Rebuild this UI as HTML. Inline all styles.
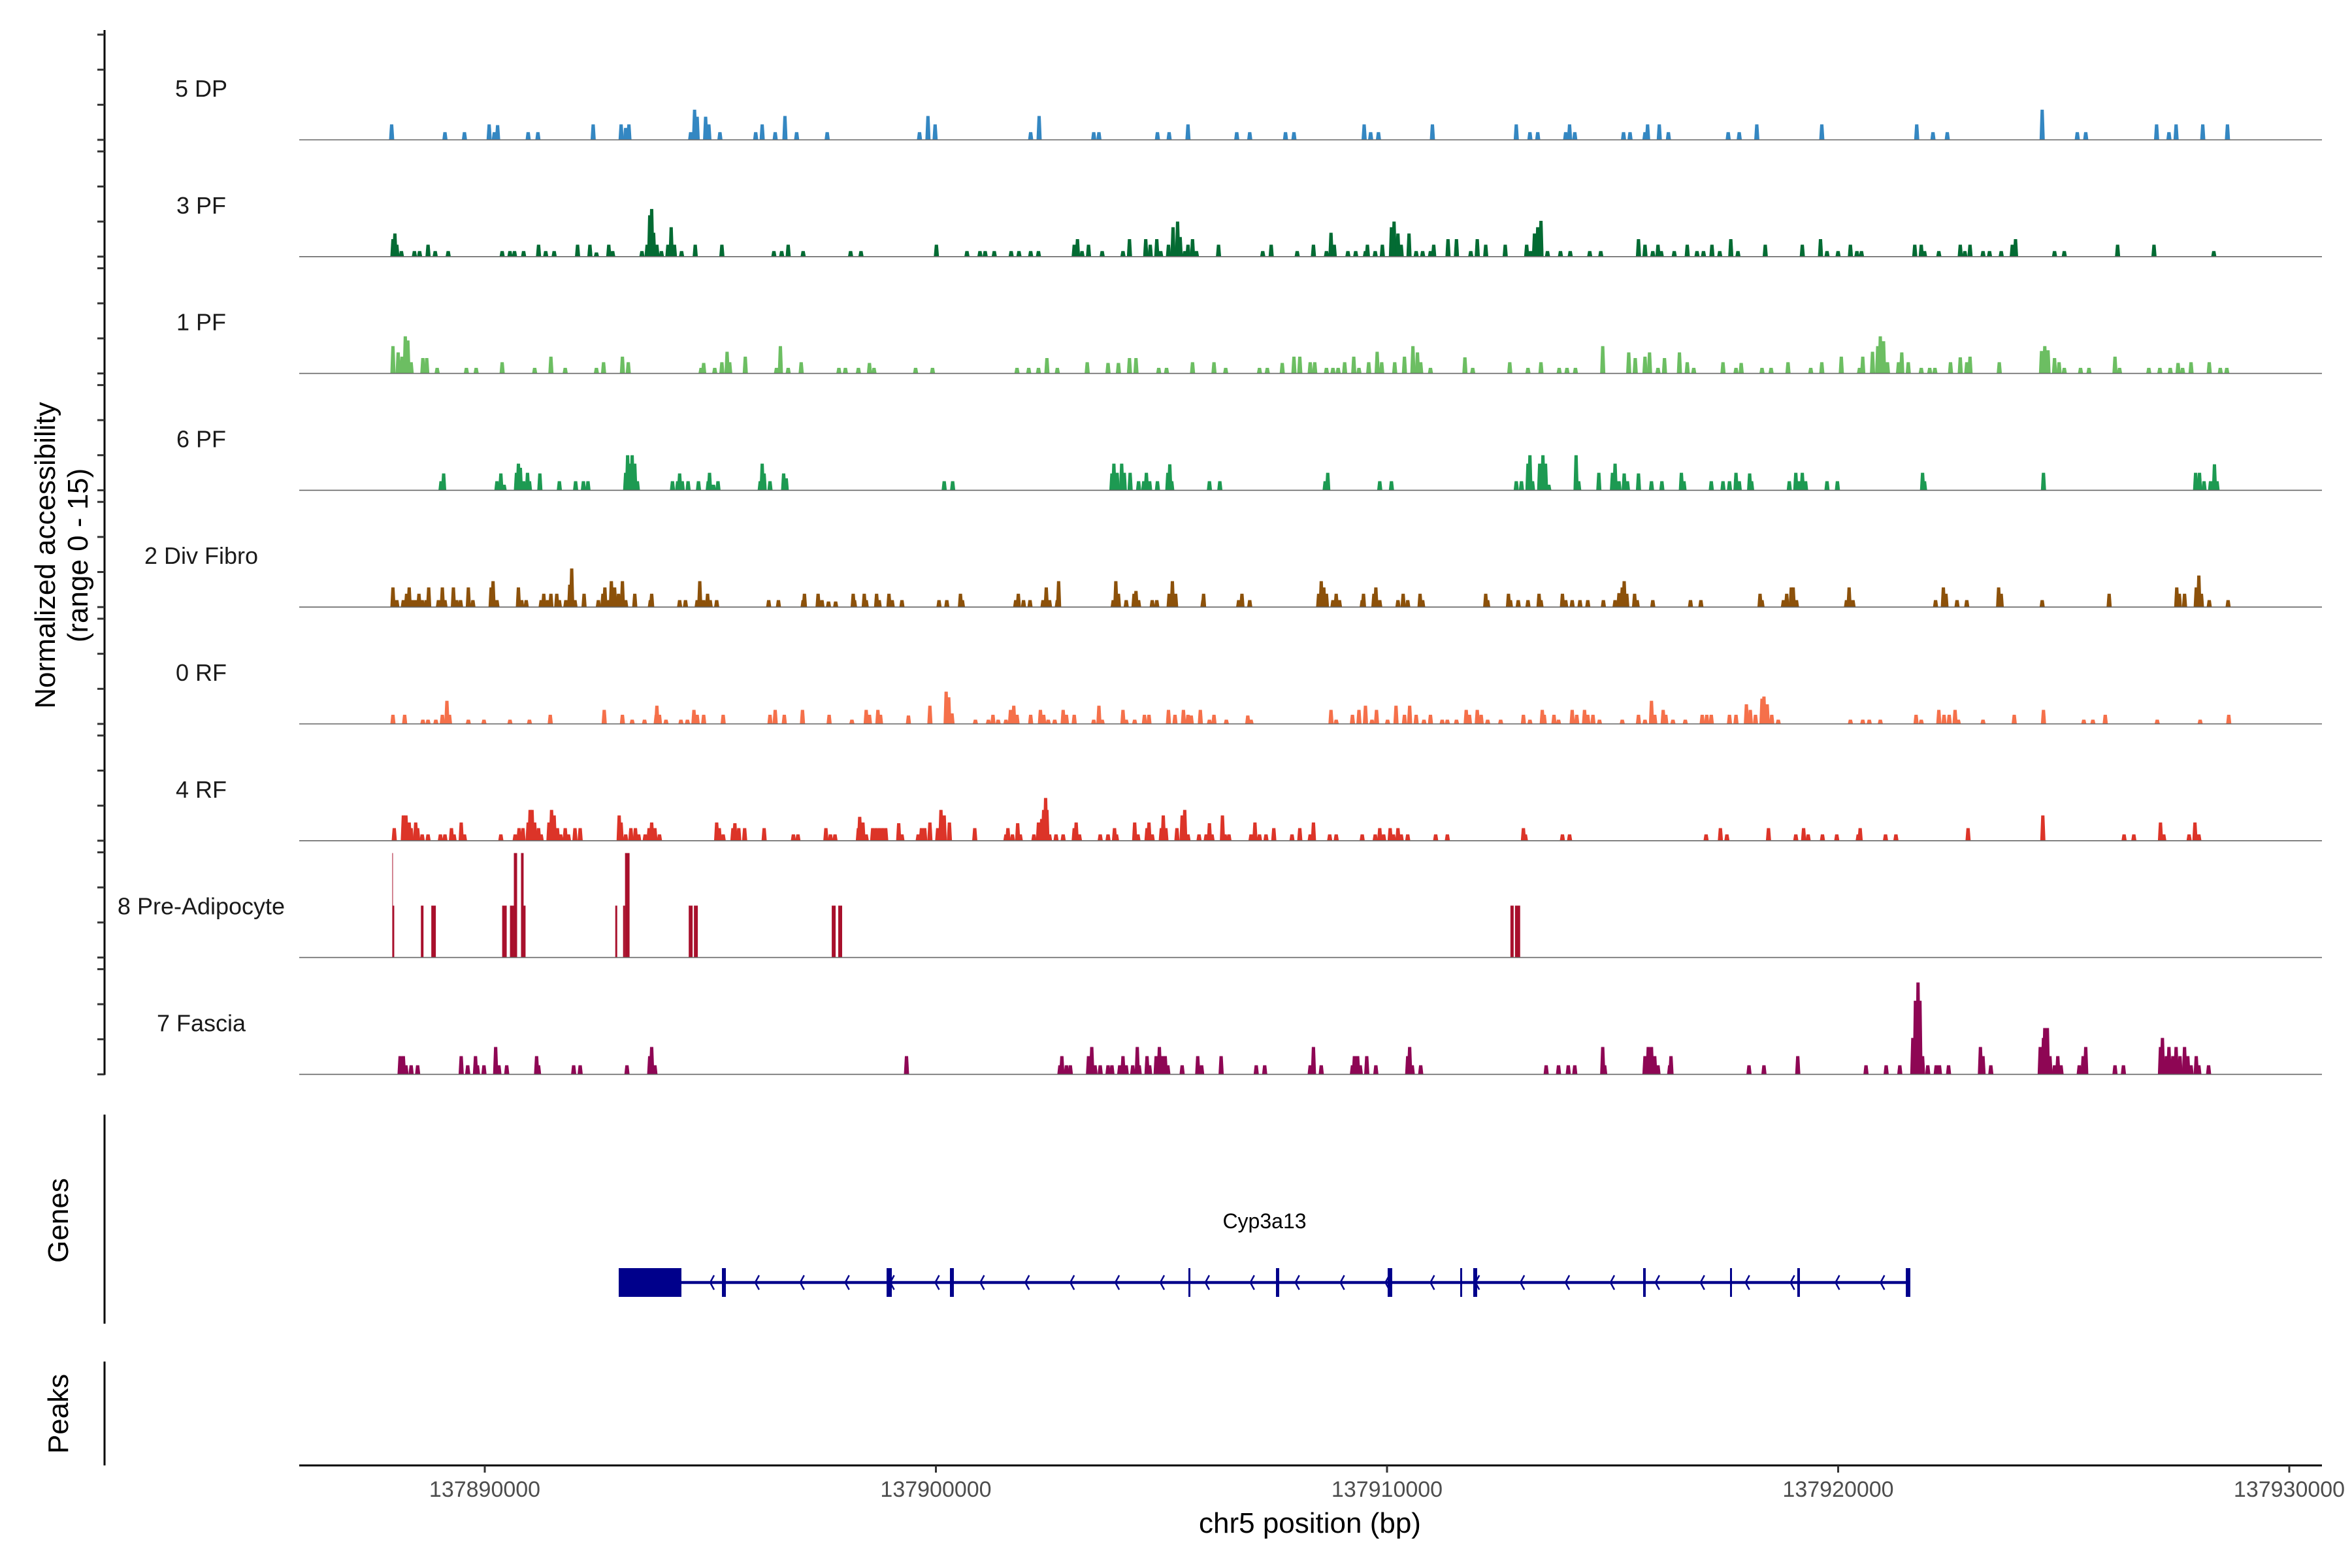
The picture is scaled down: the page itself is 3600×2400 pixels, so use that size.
<!DOCTYPE html>
<html><head><meta charset="utf-8">
<style>
html,body{margin:0;padding:0;background:#fff;}
svg{display:block;font-family:"Liberation Sans",Arial,sans-serif;}
</style></head>
<body>
<svg id="chart" width="3600" height="2400" viewBox="0 0 3600 2400" xmlns="http://www.w3.org/2000/svg">
<rect x="0" y="0" width="3600" height="2400" fill="#fff"/>
<g id="yaxis"></g>
<g id="tracks"></g>
<g id="genes"></g>
<g id="xaxis"></g>
<g transform="translate(92,850) rotate(-90)">
<text x="0" y="-8" text-anchor="middle" font-size="44" fill="#000">Normalized accessibility</text>
<text x="0" y="42" text-anchor="middle" font-size="44" fill="#000">(range 0 - 15)</text>
</g>
<text transform="translate(104,1868) rotate(-90)" text-anchor="middle" font-size="44" fill="#000">Genes</text>
<text transform="translate(104,2164) rotate(-90)" text-anchor="middle" font-size="44" fill="#000">Peaks</text>
<text x="2005" y="2346" text-anchor="middle" font-size="44" fill="#000">chr5 position (bp)</text>
</svg>
<script>
// ---- data ----
const REGION_START = 137885630;
const BIN_BP = 14.41;
const trackNames = ["5 DP","3 PF","1 PF","6 PF","2 Div Fibro","0 RF","4 RF","8 Pre-Adipocyte","7 Fascia"];
const trackColors = ["#3487c2","#036b33","#6cbe62","#1d9a52","#8c510a","#f5704a","#dc3428","#a8102c","#8e0654"];
const xTickValues = [137890000,137900000,137910000,137920000,137930000];
const xTickLabels = ["137890000","137900000","137910000","137920000","137930000"];
const yTickValues = [0,5,10,15];

const dp5 = [[160,2.2],[242,1.1],[272,1.1],[310,2.2],[318,1.1],[323,2.1],[370,1.1],[385,1.1],[470,2.2],[513,2.2],[520,1.7],[525,2.2],[620,1.1],[626,4.3],[630,3.3],[643,3.3],[648,2.2],[665,1.1],[720,1.1],[730,2.2],[750,1.1],[765,3.4],[783,1.1],[830,1.1],[972,1.1],[985,3.4],[996,2.2],[1143,1.1],[1156,3.4],[1240,1.1],[1248,1.1],[1338,1.1],[1356,1.1],[1385,2.2],[1460,1.1],[1480,1.1],[1535,1.1],[1548,1.1],
[1656,2.2],[1666,1.1],[1678,1.1],[1761,2.2],[1890,2.2],[1911,1.1],[1923,1.1],[1966,1.1],[1972,2.2],[1980,1.1],[2055,1.1],[2065,1.1],[2088,1.1],[2092,2.2],[2110,2.2],[2124,1.1],[2216,1.1],[2233,1.1],[2260,2.2],[2360,2.2],[2506,2.2],[2531,1.1],[2553,1.1],[2699,4.3],[2753,1.1],[2766,1.1],[2875,2.2],[2894,1.1],[2905,2.2],[2946,2.2],[2984,2.2]];

const pf3 = [[162,2.5],[165,3.3],[168,1.7],[175,0.8],[195,0.8],[203,0.8],[216,1.7],[227,0.8],[247,0.8],[330,0.8],[342,0.8],[349,0.8],[363,0.8],[386,1.7],[397,0.8],[410,0.8],[446,1.7],[465,1.7],[475,0.6],[494,1.7],[500,0.8],[545,0.8],[553,1.7],[557,5.9],[560,6.8],[563,3.4],[568,1.7],[575,0.8],[585,1.7],[590,4.2],[595,1.7],[606,0.8],[627,1.7],[668,1.7],[748,0.8],[760,0.8],[770,1.7],[793,0.8],[866,0.8],[882,0.8],[998,1.7],[1045,0.8],[1065,0.8],[1073,0.8],[1087,0.8],[1113,0.8],[1125,0.8],[1143,0.8],[1155,0.8],[1210,1.7],[1215,2.5],[1222,0.8],[1232,1.7],[1253,0.8],[1285,0.8],[1295,2.5],[1320,2.5],[1327,1.7],[1337,2.5],[1343,0.8],[1355,1.7],[1362,4.2],[1369,5.0],[1373,2.8],[1380,0.8],[1385,1.7],[1392,2.5],[1398,0.8],[1432,1.7],[1500,0.8],[1513,1.7],[1553,0.8],
[1578,1.7],[1598,0.8],[1605,3.4],[1610,1.7],[1631,0.8],[1643,0.8],[1658,0.8],[1661,1.7],[1673,0.8],[1684,1.7],[1698,4.2],[1702,5.0],[1708,3.3],[1713,1.7],[1725,3.3],[1736,0.8],[1746,0.8],[1758,0.8],[1763,1.7],[1785,2.5],[1798,2.5],[1820,0.8],[1830,2.5],[1843,1.7],[1873,1.7],[1906,1.7],[1912,0.8],[1918,3.3],[1923,4.2],[1928,5.1],[1938,0.8],[1958,0.8],[1973,0.8],[2003,0.8],[2020,0.8],[2078,2.5],[2088,1.7],[2100,0.8],[2108,1.7],[2113,0.8],[2133,0.8],[2153,1.7],[2168,0.8],[2178,0.8],[2191,1.7],[2203,0.8],[2220,2.5],[2231,0.8],[2273,1.7],[2330,1.7],[2358,2.5],[2368,0.8],[2385,0.8],[2404,1.7],[2414,0.8],[2421,0.8],[2503,1.7],[2513,1.7],[2518,0.8],[2540,0.8],[2573,1.7],[2580,0.8],[2588,1.7],[2608,0.8],[2618,0.8],[2636,0.8],[2653,1.7],[2658,2.5],[2718,0.8],[2733,0.8],[2815,1.7],[2871,1.7],[2963,0.8]];

const pf1 = [[162,3.9],[170,3.0],[176,2.4],[181,5.3],[185,4.7],[190,1.6],[208,2.2],[214,2.2],[230,0.8],[275,0.8],[290,0.8],[330,1.6],[380,0.8],[405,2.4],[427,0.8],[475,0.8],[486,1.6],[515,2.4],[524,1.6],[636,0.8],[640,1.5],[657,0.8],[668,1.6],[676,3.1],[680,1.6],[704,2.4],[752,0.8],[758,3.9],[770,0.8],[790,1.6],[848,0.8],[858,0.8],[878,0.8],[895,1.5],[902,0.8],[966,0.8],[992,0.8],[1122,0.8],[1140,0.8],[1155,0.8],[1168,2.2],[1184,0.8],[1230,1.6],[1262,1.5],[1278,1.5],[1295,2.2],[1305,2.2],[1340,0.8],[1352,0.8],[1392,1.6],[1425,1.6],[1443,0.8],[1495,0.8],[1507,0.8],[1530,1.5],[1548,2.4],[1557,2.4],
[1573,1.6],[1580,1.6],[1598,0.8],[1608,0.8],[1616,0.8],[1626,1.6],[1640,2.4],[1648,0.8],[1663,1.6],[1676,3.1],[1683,1.6],[1703,1.6],[1718,2.4],[1731,3.9],[1738,3.0],[1743,1.6],[1758,0.8],[1811,2.3],[1823,0.8],[1880,1.6],[1908,0.8],[1928,1.6],[1956,0.8],[1968,0.8],[1981,0.8],[2023,3.9],[2063,3.0],[2073,2.2],[2088,2.4],[2095,3.0],[2108,0.8],[2118,2.2],[2141,3.0],[2153,1.6],[2163,0.8],[2208,1.6],[2228,0.8],[2236,1.5],[2268,0.8],[2282,0.8],[2308,1.6],[2343,0.8],[2360,1.6],[2390,2.4],[2418,0.8],[2423,2.4],[2438,3.1],[2446,3.9],[2450,5.3],[2455,4.6],[2461,1.6],[2478,1.6],[2483,3.0],[2493,1.6],[2513,0.8],[2526,0.8],[2534,0.8],[2558,1.6],[2573,2.3],[2583,1.6],[2588,2.4],[2633,1.6],[2698,3.2],[2703,3.9],[2708,3.3],[2718,2.2],[2725,1.6],[2733,0.8],[2758,0.8],[2771,0.8],[2811,2.4],[2818,0.8],[2863,0.8],[2880,0.8],[2896,0.8],[2908,1.5],[2915,0.8],[2928,1.6],[2956,1.6],[2973,0.8],[2983,0.8]];

const pf6 = [[236,1.3],[240,2.4],[322,1.3],[328,2.4],[333,0.8],[352,2.5],[355,3.8],[358,3.2],[363,1.3],[369,2.5],[372,1.3],[388,2.4],[418,1.3],[443,1.3],[455,1.3],[462,1.3],[520,2.5],[523,5.0],[527,3.8],[530,5.0],[534,3.8],[538,1.3],[592,1.3],[600,1.3],[603,2.4],[607,1.3],[616,1.3],[632,1.3],[647,1.3],[649,2.5],[655,0.8],[662,1.3],[727,1.3],[730,3.8],[733,2.4],[742,1.3],[763,2.4],[767,1.7],[1010,1.3],[1023,1.3],[1268,2.4],[1271,3.8],[1276,2.5],[1283,3.8],[1287,2.5],[1296,2.5],[1309,1.3],[1317,1.3],[1321,2.5],[1326,1.3],[1338,1.3],[1354,2.5],[1357,3.7],[1360,1.3],[1418,1.3],[1434,1.3],
[1596,1.3],[1600,2.5],[1680,1.3],[1698,1.3],[1890,1.3],[1898,1.3],[1908,3.8],[1911,5.0],[1915,1.3],[1926,3.8],[1931,5.0],[1935,3.8],[1940,0.8],[1982,5.0],[1986,1.3],[2017,2.5],[2038,2.5],[2042,3.8],[2048,1.3],[2056,2.4],[2061,1.3],[2078,2.4],[2098,1.3],[2114,1.3],[2144,2.5],[2148,1.3],[2190,1.3],[2208,1.3],[2218,1.3],[2228,2.5],[2233,1.3],[2249,2.4],[2252,1.3],[2310,1.3],[2320,2.5],[2325,1.3],[2330,2.5],[2335,1.3],[2368,1.3],[2384,1.3],[2515,2.5],[2518,1.3],[2701,2.5],[2935,2.5],[2941,2.5],[2948,1.3],[2958,1.3],[2964,3.7],[2968,1.3]];

const fibro2 = [[162,2.8],[168,1.0],[178,1.0],[183,1.9],[187,2.8],[192,1.0],[197,1.0],[202,1.9],[207,1.0],[213,1.0],[217,2.8],[232,1.0],[238,2.8],[242,1.0],[255,2.8],[260,1.0],[266,1.0],[278,2.8],[285,1.0],[313,2.8],[316,3.7],[322,1.0],[355,2.8],[360,1.0],[367,1.0],[390,1.0],[394,1.9],[400,1.0],[405,1.9],[414,1.9],[418,1.0],[428,1.0],[434,3.2],[437,5.5],[442,1.0],[456,1.9],[478,1.0],[485,1.9],[488,2.8],[494,1.0],[498,3.7],[503,2.8],[509,1.9],[515,3.7],[520,1.0],[534,1.9],[558,1.0],[560,1.9],[603,1.0],[612,1.0],[630,1.0],[634,3.7],[640,1.0],[646,1.9],[650,1.0],[660,1.0],[740,1.0],[755,1.0],[793,1.0],[795,1.9],[816,1.9],[822,1.0],[832,0.8],[843,0.8],[870,1.9],[872,1.0],[887,1.9],[890,1.0],[906,1.9],[910,1.0],[925,1.9],[930,1.0],[945,1.0],[1002,1.0],[1014,1.0],[1035,1.9],[1038,1.0],[1120,1.0],[1124,1.9],[1132,1.0],[1142,1.0],[1162,1.0],[1167,2.8],[1172,1.0],[1184,1.0],[1186,3.7],[1270,1.0],[1274,3.7],[1278,1.9],[1290,1.0],[1302,1.9],[1305,2.3],[1309,1.0],[1330,1.0],[1337,1.0],[1356,1.9],[1361,3.7],[1366,1.9],[1408,1.0],[1409,1.9],[1463,1.0],[1468,1.9],[1480,1.0],
[1586,1.9],[1590,3.7],[1594,2.8],[1598,1.9],[1608,1.0],[1613,1.9],[1618,1.0],[1653,1.0],[1655,1.9],[1671,1.9],[1674,2.8],[1680,1.0],[1708,1.0],[1716,1.9],[1723,1.0],[1742,1.9],[1746,1.0],[1843,1.9],[1846,1.0],[1878,1.9],[1881,1.0],[1893,1.0],[1908,1.0],[1925,1.9],[1928,1.0],[1961,1.9],[1966,1.0],[1976,1.0],[1988,1.0],[2000,1.0],[2024,1.0],[2042,1.0],[2048,2.0],[2053,2.8],[2056,3.7],[2060,1.9],[2072,1.9],[2076,1.0],[2100,1.0],[2158,1.0],[2174,1.0],[2265,1.9],[2268,1.0],[2301,1.0],[2306,1.9],[2313,2.8],[2316,2.8],[2321,1.0],[2398,1.0],[2402,2.8],[2408,1.0],[2535,1.0],[2547,2.8],[2551,1.9],[2568,1.0],[2583,1.0],[2632,2.8],[2636,1.9],[2699,1.0],[2802,1.9],[2906,2.8],[2910,1.9],[2918,1.9],[2936,2.8],[2940,4.5],[2944,1.9],[2956,1.0],[2985,1.0]];

const rf0 = [[162,1.3],[180,1.3],[208,0.6],[216,0.6],[228,0.6],[238,1.3],[245,3.3],[249,1.3],[278,0.6],[302,0.6],[342,0.6],[372,0.6],[404,1.3],[487,2.0],[515,1.3],[530,0.6],[549,0.6],[567,1.3],[568,2.6],[572,1.3],[582,0.6],[605,0.6],[615,0.6],[625,2.0],[630,1.3],[640,1.3],[670,1.3],[742,1.3],[750,2.0],[764,1.3],[792,2.0],[833,1.3],[868,0.6],[890,2.0],[895,1.3],[908,2.0],[912,1.3],[955,1.2],[988,2.6],[1013,4.6],[1017,3.8],[1022,1.5],[1058,0.6],[1078,0.6],[1085,1.3],[1093,0.6],[1105,0.6],[1112,2.0],[1117,2.6],[1122,1.3],[1143,1.3],[1158,2.0],[1163,1.3],[1170,0.6],[1180,0.6],[1193,2.0],[1198,1.3],[1210,1.3],[1240,0.6],[1248,2.6],[1253,0.6],[1285,2.0],[1290,0.6],[1303,0.6],[1318,1.3],[1325,1.3],[1355,2.0],[1365,1.3],[1378,2.0],[1385,1.3],[1390,1.2],[1404,2.0],[1418,0.6],[1425,1.3],[1444,0.6],[1477,1.2],[1482,0.6],
[1605,2.0],[1613,0.6],[1638,1.3],[1648,2.0],[1658,2.6],[1668,0.6],[1675,2.0],[1692,0.6],[1705,2.6],[1718,1.3],[1726,2.6],[1736,1.3],[1748,0.6],[1758,1.3],[1776,0.6],[1784,0.6],[1798,0.6],[1813,2.0],[1818,1.3],[1830,2.0],[1836,1.3],[1846,0.6],[1866,0.6],[1901,1.3],[1911,0.6],[1930,2.0],[1933,1.3],[1948,1.3],[1955,0.6],[1976,2.0],[1983,1.3],[1995,2.0],[2000,1.3],[2008,1.3],[2018,0.6],[2053,0.6],[2078,1.3],[2088,0.6],[2098,3.3],[2103,1.3],[2116,2.0],[2120,1.3],[2131,0.6],[2150,0.6],[2176,1.3],[2183,1.3],[2190,1.3],[2218,1.3],[2228,1.3],[2244,2.8],[2250,2.0],[2258,1.3],[2268,3.6],[2271,3.9],[2276,2.8],[2283,1.3],[2293,0.6],[2404,0.6],[2423,0.6],[2433,0.6],[2450,0.6],[2505,1.3],[2513,0.6],[2540,2.0],[2548,1.3],[2556,1.3],[2565,2.0],[2570,0.6],[2608,0.6],[2656,1.3],[2701,2.0],[2763,0.6],[2777,0.6],[2796,1.3],[2876,0.6],[2942,0.6],[2986,1.3]];

const rf4 = [[164,1.8],[178,3.6],[182,3.6],[187,2.6],[190,1.8],[197,2.6],[200,1.8],[207,0.9],[216,0.9],[235,0.9],[242,0.9],[252,1.8],[256,0.9],[267,2.6],[272,0.9],[328,0.9],[350,0.9],[356,1.8],[362,1.8],[370,2.6],[373,4.4],[376,4.4],[380,2.6],[386,1.8],[390,0.9],[402,2.6],[406,4.4],[410,3.6],[415,1.8],[420,0.9],[427,1.8],[432,0.9],[442,1.8],[450,1.8],[510,3.6],[513,2.6],[520,0.9],[528,1.8],[535,1.8],[540,0.9],[550,0.9],[556,1.8],[560,2.6],[565,1.8],[572,0.9],[660,2.6],[664,1.8],[670,0.9],[685,1.8],[688,2.5],[694,1.8],[703,1.8],[733,1.8],[778,0.9],[785,0.9],[828,1.8],[835,0.9],[842,0.9],[878,1.8],[880,3.4],[885,2.6],[890,0.9],[900,1.8],[905,1.8],[910,1.8],[915,1.8],[920,1.8],[940,2.5],[945,0.9],[970,0.9],[975,1.8],[980,1.8],[988,2.6],[1000,1.8],[1005,4.4],[1010,3.6],[1018,2.6],[1057,1.8],[1105,0.9],[1108,1.8],[1115,0.9],[1123,2.5],[1127,0.9],[1148,0.9],[1155,2.6],[1160,3.1],[1163,4.4],[1166,6.1],[1168,4.4],[1172,0.9],[1182,0.9],[1193,0.9],[1210,1.8],[1213,2.6],[1218,0.9],[1250,0.9],[1262,0.9],[1272,1.8],[1275,0.9],[1303,2.6],[1308,0.9],[1322,1.8],[1325,2.6],[1330,0.9],[1344,1.8],[1347,3.6],[1351,1.8],[1368,1.8],[1376,3.6],[1380,4.4],[1385,0.9],[1402,0.9],[1413,0.9],[1418,2.5],[1422,0.9],[1438,3.6],[1442,0.9],[1448,0.9],[1482,0.9],[1488,2.6],[1495,0.9],[1505,0.9],[1517,1.8],[1545,0.9],[1557,1.8],
[1573,0.9],[1578,2.6],[1603,0.9],[1613,0.9],[1653,0.9],[1673,0.9],[1680,1.8],[1686,0.9],[1696,1.8],[1701,0.9],[1708,1.8],[1713,0.9],[1723,0.9],[1766,0.9],[1784,0.9],[1901,1.8],[1904,0.9],[1961,0.9],[1972,0.9],[2182,0.9],[2204,1.8],[2214,0.9],[2278,1.8],[2320,0.9],[2332,1.8],[2339,0.9],[2361,0.9],[2383,0.9],[2416,0.9],[2419,1.8],[2458,0.9],[2474,0.9],[2585,1.8],[2700,3.6],[2825,0.9],[2840,0.9],[2881,2.6],[2886,0.9],[2925,0.9],[2934,2.6],[2940,0.9]];

// pre-adipocyte bars: [startBin, endBin, value]
const preAdipoStart = [161,161,205,221,330,342,348,359,362,504,516,519,617,625,837,847,1881,1888];
const preAdipoEnd   = [164,161.6,209,228,337,348,353,363,366,507,519,526,623,631,843,853,1886,1896];
const preAdipoValue = [7.4,14.9,7.4,7.4,7.4,7.4,14.9,14.9,7.4,7.4,7.4,14.9,7.4,7.4,7.4,7.4,7.4,7.4];

const fascia7 = [[173,2.6],[178,2.6],[182,1.3],[190,1.3],[200,1.3],[267,2.6],[277,1.3],[289,2.6],[292,1.3],[302,1.3],[320,3.9],[325,1.3],[337,1.3],[383,2.6],[386,1.3],[440,1.3],[450,1.3],[522,1.3],[557,2.6],[560,3.9],[565,1.3],[952,2.6],[1188,1.3],[1191,2.6],[1198,1.3],[1204,1.3],[1232,2.6],[1237,3.9],[1242,1.3],[1250,1.3],[1262,1.3],[1268,1.3],[1280,1.3],[1285,2.6],[1290,1.3],[1300,1.3],[1307,3.9],[1310,1.3],[1322,2.6],[1326,1.3],[1336,2.6],[1341,3.9],[1346,2.6],[1350,2.6],[1354,1.3],[1376,1.3],[1400,2.6],[1406,1.3],[1436,2.6],[1490,1.3],[1503,1.3],
[1573,1.3],[1578,3.9],[1590,1.3],[1638,1.3],[1641,2.6],[1646,2.6],[1650,1.3],[1660,2.6],[1674,1.3],[1723,2.6],[1726,3.9],[1730,1.3],[1743,1.3],[1936,1.3],[1955,1.3],[1970,1.3],[1980,1.3],[2023,3.9],[2026,1.3],[2088,2.6],[2093,3.9],[2098,3.9],[2103,2.6],[2108,1.3],[2126,1.3],[2128,2.6],[2248,1.3],[2271,1.3],[2323,2.6],[2428,1.3],[2459,1.3],[2480,1.3],[2500,5.2],[2504,10.5],[2508,13.1],[2511,10.5],[2515,2.6],[2523,1.3],[2536,1.3],[2541,1.3],[2555,1.3],[2604,3.9],[2608,2.6],[2620,1.3],[2696,3.9],[2701,5.2],[2703,6.6],[2707,6.6],[2711,2.6],[2718,1.3],[2723,2.6],[2728,1.3],[2756,1.3],[2762,2.6],[2766,3.9],[2811,1.3],[2824,1.3],[2881,3.9],[2884,5.2],[2890,2.6],[2894,3.9],[2900,2.6],[2905,3.9],[2911,2.6],[2918,3.9],[2923,2.6],[2928,1.3],[2936,2.6],[2940,1.3],[2955,1.3]];

// gene model (bp)
const geneName = "Cyp3a13";
const geneStart = 137892969;
const geneEnd = 137921600;
const exonStarts = [137892969,137895257,137898907,137900311,137905597,137907538,137910014,137911622,137911911,137915677,137917603,137919094,137921500];
const exonEnds   = [137894359,137895344,137899023,137900398,137905640,137907610,137910115,137911665,137911998,137915735,137917646,137919152,137921600];

// ---- scales ----
const NS = "http://www.w3.org/2000/svg";
const X0 = 742, PX_PER_BP = 0.06905, REF_BP = 137890000;
function xScale(bp){ return X0 + (bp - REF_BP) * PX_PER_BP; }
function binToBp(b){ return REGION_START + b * BIN_BP; }
const BASE0 = 214, TRACK_H = 178.8, UNIT_PX = 161/15;
function baseY(i){ return BASE0 + TRACK_H * i; }
function yScale(i, v){ return baseY(i) - v * UNIT_PX; }
const PLOT_L = 458, PLOT_R = 3554;

function mk(tag, attrs, parent){
  const e = document.createElementNS(NS, tag);
  for (const k in attrs) e.setAttribute(k, attrs[k]);
  parent.appendChild(e);
  return e;
}

// ---- y axis ----
const yaxis = document.getElementById('yaxis');
const yl = mk('line', {x1:160, y1:46, x2:160, y2:baseY(8)+1, stroke:'#000', 'stroke-width':3}, yaxis);


for (let i = 0; i < trackNames.length; i++){
  for (const v of yTickValues){
    const y = yScale(i, v);
    const t = mk('line', {x1:149, y1:y, x2:160, y2:y, stroke:'#333', 'stroke-width':3}, yaxis);
    
    
  }
}

// ---- tracks ----
const trackData = [dp5, pf3, pf1, pf6, fibro2, rf0, rf4, null, fascia7];
const tracksG = document.getElementById('tracks');
for (let i = 0; i < trackNames.length; i++){
  const g = mk('g', {}, tracksG);
  
  
  const lab = mk('text', {x:308, y:baseY(i)-66, 'text-anchor':'middle', 'font-size':36, fill:'#1a1a1a'}, g);
  lab.textContent = trackNames[i];
  
  
  const col = trackColors[i];
  const b = baseY(i);
  if (trackData[i]){
    for (const [bin, v] of trackData[i]){
      const xl = xScale(binToBp(bin - 4)), xr = xScale(binToBp(bin + 4));
      const tl = xScale(binToBp(bin - 2.5)), tr = xScale(binToBp(bin + 2.5));
      const yt = yScale(i, v);
      const p = mk('polygon', {points: `${xl},${b} ${tl},${yt} ${tr},${yt} ${xr},${b}`, fill: col}, g);
      
      
    }
  } else {
    for (let k = 0; k < preAdipoStart.length; k++){
      const x1 = xScale(binToBp(preAdipoStart[k])), x2 = xScale(binToBp(preAdipoEnd[k]));
      const yt = yScale(i, preAdipoValue[k]);
      const r = mk('rect', {x:x1, y:yt, width:Math.max(1, x2-x1), height:b-yt, fill: col}, g);
      
      
    }
  }
  const bl = mk('line', {x1:PLOT_L, y1:b, x2:PLOT_R, y2:b, stroke:'#666', 'stroke-width':1.6}, g);
  
  
}

// ---- genes panel ----
const genesG = document.getElementById('genes');
const ga = mk('line', {x1:160, y1:1706, x2:160, y2:2026, stroke:'#000', 'stroke-width':3}, genesG);


const pa = mk('line', {x1:160, y1:2084, x2:160, y2:2243, stroke:'#000', 'stroke-width':3}, genesG);


const GENE_Y = 1963, GENE_COL = '#00008b';
const gl = mk('line', {x1:xScale(geneStart), y1:GENE_Y, x2:xScale(geneEnd), y2:GENE_Y, stroke:GENE_COL, 'stroke-width':4.5}, genesG);


for (let k = 0; k < exonStarts.length; k++){
  const x1 = xScale(exonStarts[k]), x2 = xScale(exonEnds[k]);
  const r = mk('rect', {x:x1, y:GENE_Y-22, width:Math.max(3, x2-x1), height:44, fill:GENE_COL}, genesG);
  
  
}
const firstExonEnd = xScale(exonEnds[0]);
for (let x = firstExonEnd + 47; x < xScale(geneEnd) - 20; x += 68.9){
  const c = mk('polyline', {points:`${x+3},${GENE_Y-11} ${x-3},${GENE_Y} ${x+3},${GENE_Y+11}`, fill:'none', stroke:GENE_COL, 'stroke-width':2.5}, genesG);
  
  
}
const gn = mk('text', {x:(xScale(geneStart)+xScale(geneEnd))/2, y:1880, 'text-anchor':'middle', 'font-size':32, fill:'#000'}, genesG);
gn.textContent = geneName;



// ---- x axis ----
const xaxis = document.getElementById('xaxis');
const xl = mk('line', {x1:PLOT_L, y1:2243, x2:PLOT_R, y2:2243, stroke:'#000', 'stroke-width':3}, xaxis);


for (let k = 0; k < xTickValues.length; k++){
  const x = xScale(xTickValues[k]);
  const t = mk('line', {x1:x, y1:2243, x2:x, y2:2254, stroke:'#333', 'stroke-width':3}, xaxis);
  
  
  const lb = mk('text', {x:x, y:2291, 'text-anchor':'middle', 'font-size':34, fill:'#4d4d4d'}, xaxis);
  lb.textContent = xTickLabels[k];
  
  
}
</script>
</body></html>
